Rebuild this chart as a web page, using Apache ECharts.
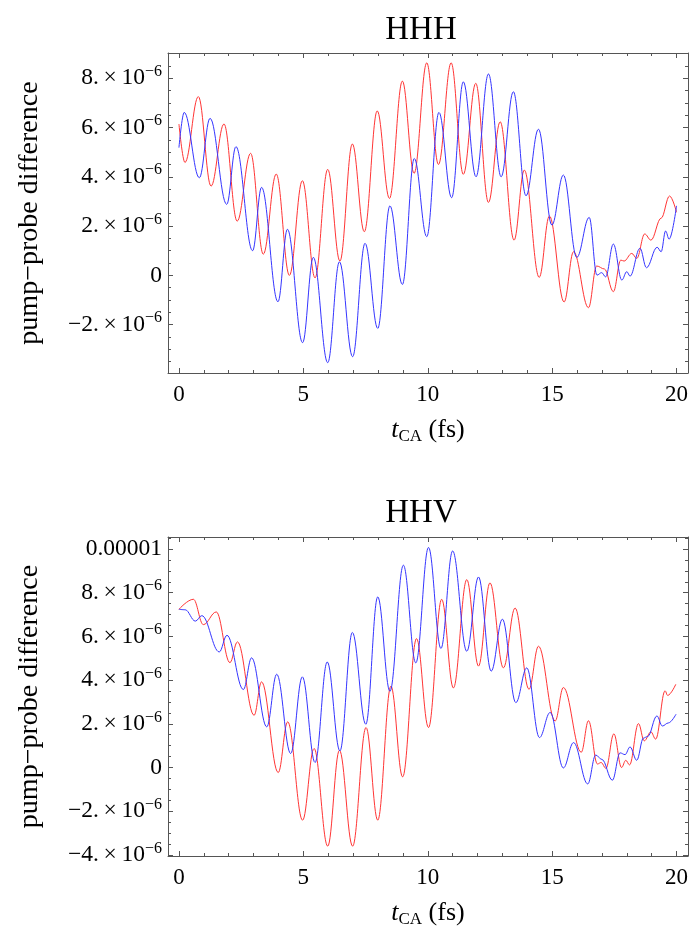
<!DOCTYPE html>
<html><head><meta charset="utf-8">
<script src="https://cdn.jsdelivr.net/npm/echarts@6/dist/echarts.min.js"></script>
<style>html,body{margin:0;padding:0;background:#fff}#c{width:692px;height:931px}</style>
</head><body><div id="c"></div>
<script>
// ---------- data (values in units of 1e-6) ----------
const panelTitles = ['HHH', 'HHV'];
const xTickValues = [0, 5, 10, 15, 20];
const hhhYTickValues = [-2, 0, 2, 4, 6, 8];
const hhvYTickValues = [-4, -2, 0, 2, 4, 6, 8, 10];

const hhhRedT = [0, 0.24, 0.78, 1.29, 1.81, 2.34, 2.88, 3.39, 3.91, 4.44, 4.96, 5.47, 5.98, 6.47, 6.97, 7.45, 7.97, 8.46, 8.98, 9.45, 9.96, 10.43, 10.94, 11.43, 11.93, 12.44, 12.91, 13.47, 13.88, 14.48, 14.89, 15.48, 15.86, 16.46, 16.79, 17.1, 17.46, 17.76, 17.89, 18.2, 18.4, 18.72, 18.97, 19.38, 19.72, 20.0];
const hhhRedV = [6.14, 4.58, 7.25, 3.62, 6.14, 2.20, 4.95, 0.86, 4.11, 0.0, 3.84, -0.10, 4.30, 0.58, 5.33, 1.77, 6.67, 3.12, 7.88, 4.14, 8.62, 4.50, 8.62, 4.10, 7.79, 2.96, 6.23, 1.43, 4.27, -0.08, 2.41, -1.08, 0.96, -1.31, 0.38, 0.26, -0.66, 0.62, 0.58, 0.89, 0.69, 1.68, 1.43, 2.32, 3.22, 2.56];

const hhhBlueT = [0, 0.21, 0.82, 1.25, 1.92, 2.29, 2.96, 3.32, 3.98, 4.36, 4.97, 5.40, 5.98, 6.45, 6.98, 7.48, 7.99, 8.48, 8.98, 9.46, 9.96, 10.45, 10.96, 11.43, 11.94, 12.44, 12.95, 13.44, 13.95, 14.45, 14.99, 15.45, 15.99, 16.49, 16.8, 16.99, 17.15, 17.46, 17.80, 18.0, 18.13, 18.53, 18.79, 19.22, 19.38, 19.56, 19.70, 20.0];
const hhhBlueV = [5.18, 6.61, 3.96, 6.37, 2.88, 5.22, 1.00, 3.57, -1.07, 1.87, -2.73, 0.73, -3.54, 0.55, -3.30, 1.30, -2.15, 2.82, -0.37, 4.74, 1.57, 6.61, 3.15, 7.85, 4.00, 8.17, 4.00, 7.45, 3.23, 5.93, 2.04, 4.07, 0.73, 2.35, 0.01, 0.11, -0.06, 1.27, -0.19, 0.15, -0.03, 1.10, 0.31, 1.14, 0.96, 1.80, 1.47, 2.82];

const hhvRedT = [0, 0.58, 0.98, 1.50, 2.05, 2.35, 3.02, 3.32, 3.99, 4.37, 4.97, 5.43, 5.98, 6.45, 6.98, 7.52, 7.99, 8.52, 8.99, 9.55, 10.03, 10.56, 11.03, 11.57, 12.04, 12.50, 13.04, 13.51, 14.07, 14.45, 15.12, 15.45, 16.17, 16.46, 16.82, 16.97, 17.16, 17.48, 17.79, 17.96, 18.11, 18.47, 18.70, 18.97, 19.16, 19.54, 19.64, 19.97];
const hhvRedV = [7.24, 7.70, 6.54, 7.12, 4.80, 5.75, 2.39, 3.92, -0.23, 2.09, -2.41, 0.87, -3.60, 0.79, -3.60, 1.83, -2.41, 3.72, -0.43, 5.90, 1.83, 7.70, 3.64, 8.60, 4.64, 8.45, 4.56, 7.30, 3.58, 5.55, 2.13, 3.66, 0.70, 2.14, 0.16, 0.23, -0.04, 1.54, 0.0, 0.33, 0.12, 2.01, 1.22, 1.63, 1.30, 3.51, 3.30, 3.81];

const hhvBlueT = [0, 0.25, 0.66, 0.92, 1.62, 1.93, 2.59, 2.92, 3.53, 3.93, 4.49, 4.96, 5.47, 5.96, 6.47, 6.97, 7.51, 7.99, 8.48, 9.02, 9.52, 10.03, 10.53, 11.0, 11.57, 12.04, 12.55, 13.0, 13.54, 13.98, 14.49, 14.92, 15.45, 15.86, 16.43, 16.75, 17.0, 17.42, 17.73, 17.93, 18.13, 18.40, 18.67, 18.84, 19.21, 19.43, 19.67, 19.98];
const hhvBlueV = [7.24, 7.22, 6.70, 6.95, 5.29, 6.05, 3.57, 5.02, 1.86, 4.27, 0.64, 4.15, 0.23, 4.83, 0.76, 6.18, 1.98, 7.81, 3.49, 9.26, 4.79, 10.07, 5.45, 9.91, 5.32, 8.72, 4.41, 6.79, 2.97, 4.56, 1.37, 2.52, -0.02, 1.14, -0.75, 0.57, 0.37, -0.58, 0.67, 0.59, 0.94, 0.33, 1.35, 1.42, 2.36, 1.90, 2.04, 2.44];

// ---------- styling ----------
const SERIF = '"Liberation Serif","DejaVu Serif",serif';
const FRAME = '#555';
const RED = '#ff3535';
const BLUE = '#3535ff';
const X_MIN = -0.44, X_MAX = 20.46;
const panels = [
  {top: 53, height: 320, yMin: -3.96, yMax: 9.02, yTicks: hhhYTickValues, red: [hhhRedT, hhhRedV], blue: [hhhBlueT, hhhBlueV], titleY: 30},
  {top: 537, height: 319, yMin: -4.05, yMax: 10.55, yTicks: hhvYTickValues, red: [hhvRedT, hhvRedV], blue: [hhvBlueT, hhvBlueV], titleY: 513}
];

function minorList(lo, hi, step, majorStep) {
  const out = [];
  for (let v = Math.ceil(lo / step) * step; v <= hi + 1e-9; v += step) {
    const r = Math.round(v * 1000) / 1000;
    if (Math.abs(r / majorStep - Math.round(r / majorStep)) > 1e-6) out.push(r);
  }
  return out;
}
function yLabel(v) {
  if (Math.abs(v) < 1e-9) return '{n|0}';
  if (Math.abs(v - 10) < 1e-9) return '{n|0.00001}';
  const s = (v < 0 ? '\u2212' : '') + Math.abs(v) + '.';
  return '{n|' + s + '\u2009\u00d7\u200910}{sup|\u22126}';
}
const labelRich = {
  n: {fontFamily: SERIF, fontSize: 23.5, color: '#000'},
  sup: {fontFamily: SERIF, fontSize: 16, color: '#000', padding: [0, 0, 13, 0]}
};

const grids = [], xAxes = [], yAxes = [], series = [], graphics = [];
panels.forEach((p, g) => {
  grids.push({left: 168, top: p.top, width: 520, height: p.height, containLabel: false, outerBoundsMode: 'none'});
  const xMinor = minorList(0, 20, 1, 5);
  const yMinor = minorList(p.yMin, p.yMax, 0.5, 2);
  const base = {type: 'value', gridIndex: g, splitLine: {show: false}};
  const line = {show: true, onZero: false, lineStyle: {color: FRAME, width: 1}};
  const noLine = {show: false, onZero: false};
  // x axes: bottom major, bottom minor, top major, top minor
  xAxes.push(Object.assign({}, base, {
    position: 'bottom', min: X_MIN, max: X_MAX, axisLine: line,
    axisTick: {show: true, inside: true, length: 5, customValues: xTickValues, lineStyle: {color: FRAME}},
    axisLabel: {show: true, customValues: xTickValues, margin: 10, fontFamily: SERIF, fontSize: 23, color: '#000', formatter: v => String(v)},
    name: '{it|t}{sub|CA}{n| (fs)}', nameLocation: 'middle', nameGap: 43,
    nameTextStyle: {fontFamily: SERIF, fontSize: 26, color: '#000', rich: {
      it: {fontFamily: SERIF, fontSize: 26, fontStyle: 'italic', color: '#000'},
      sub: {fontFamily: SERIF, fontSize: 17, color: '#000', padding: [12, 0, 0, 0]},
      n: {fontFamily: SERIF, fontSize: 26, color: '#000'}}}
  }));
  xAxes.push(Object.assign({}, base, {position: 'bottom', min: X_MIN, max: X_MAX, axisLine: noLine,
    axisTick: {show: true, inside: true, length: 3, customValues: xMinor, lineStyle: {color: FRAME}}, axisLabel: {show: false}}));
  xAxes.push(Object.assign({}, base, {position: 'top', min: X_MIN, max: X_MAX, axisLine: line,
    axisTick: {show: true, inside: true, length: 5, customValues: xTickValues, lineStyle: {color: FRAME}}, axisLabel: {show: false}}));
  xAxes.push(Object.assign({}, base, {position: 'top', min: X_MIN, max: X_MAX, axisLine: noLine,
    axisTick: {show: true, inside: true, length: 3, customValues: xMinor, lineStyle: {color: FRAME}}, axisLabel: {show: false}}));
  // y axes: left major, left minor, right major, right minor
  yAxes.push(Object.assign({}, base, {
    position: 'left', min: p.yMin, max: p.yMax, axisLine: line,
    axisTick: {show: true, inside: true, length: 5, customValues: p.yTicks, lineStyle: {color: FRAME}},
    axisLabel: {show: true, customValues: p.yTicks, margin: 6, formatter: yLabel, rich: labelRich},
    name: 'pump\u2212probe difference', nameLocation: 'middle', nameGap: 124,
    nameTextStyle: {fontFamily: SERIF, fontSize: 28, color: '#000'}
  }));
  yAxes.push(Object.assign({}, base, {position: 'left', min: p.yMin, max: p.yMax, axisLine: noLine,
    axisTick: {show: true, inside: true, length: 3, customValues: yMinor, lineStyle: {color: FRAME}}, axisLabel: {show: false}}));
  yAxes.push(Object.assign({}, base, {position: 'right', min: p.yMin, max: p.yMax, axisLine: line,
    axisTick: {show: true, inside: true, length: 5, customValues: p.yTicks, lineStyle: {color: FRAME}}, axisLabel: {show: false}}));
  yAxes.push(Object.assign({}, base, {position: 'right', min: p.yMin, max: p.yMax, axisLine: noLine,
    axisTick: {show: true, inside: true, length: 3, customValues: yMinor, lineStyle: {color: FRAME}}, axisLabel: {show: false}}));

  [[p.red, RED], [p.blue, BLUE]].forEach(([arr, col]) => {
    series.push({
      type: 'line', xAxisIndex: g * 4, yAxisIndex: g * 4,
      data: arr[0].map((t, i) => [t, arr[1][i]]),
      showSymbol: false, smooth: 0.38, smoothMonotone: 'x',
      lineStyle: {color: col, width: 1}, itemStyle: {color: col},
      clip: true, animation: false, silent: true
    });
  });
  graphics.push({type: 'text', x: 421, y: p.titleY, style: {text: panelTitles[g], fontFamily: SERIF, fontSize: 33, fill: '#000', align: 'center', verticalAlign: 'middle'}});
});

const chart = echarts.init(document.getElementById('c'), null, {renderer: 'canvas'});
chart.setOption({
  animation: false,
  backgroundColor: '#fff',
  grid: grids, xAxis: xAxes, yAxis: yAxes, series: series, graphic: graphics
});
</script>
</body></html>
